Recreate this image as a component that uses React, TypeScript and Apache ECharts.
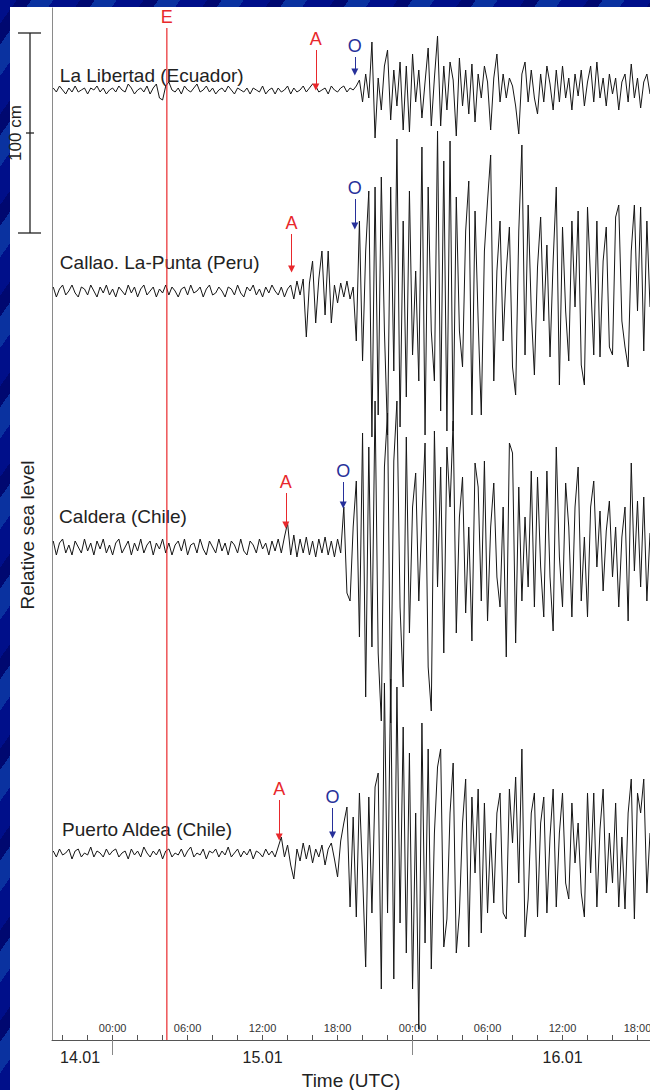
import React, { useEffect, useRef } from "react";
import * as echarts from "echarts";

// ---------- data ----------
// regular sampling of the four tide-gauge records (hours after 00:00 of the first day shown)
const T_START = -4.75;
const T_STEP = 0.25;

const STATIONS = [
  "La Libertad (Ecuador)",
  "Callao. La-Punta (Peru)",
  "Caldera (Chile)",
  "Puerto Aldea (Chile)",
];

// relative sea level (cm), one value every 15 min
const LA_LIBERTAD = [
  1, -1, 2, 0, -2, 1, -1, 2, -1, 0, 1, -2, 1, 0, 2, -1, 1, -2, 0, 1,
  -1, 2, 0, -1, 3, 1, -2, 0, 1, -1, 2, -2, 1, 3, -4, -5, 2, 4, 0, -1,
  1, -2, 2, 0, -1, 1, 3, -1, 0, 2, -1, 1, -2, 0, 1, -1, 2, 0, -2, 1,
  0, -1, 1, -2, 1, 0, -1, 2, -2, 0, 1, -2, 1, -1, 0, 2, -2, 1, -1, 0,
  2, -1, 1, 3, 2, -1, 0, 1, -2, 2, 0, -1, 1, 2, -1, 1, 0,
  2, 5, -6, 8, -4, 24, -24, 6, -10, 12, 20, -15, 10, -8, 14, -20, 12, -21, 18, -6,
  10, -14, 4, 21, -18, 6, 27, -18, 12, -10, 14, 5, -23, 16, -8, 10, -12, 13, -16, 8,
  -4, 12, 4, -20, 6, 18, -6, 8, -4, 6, 2, -8, -22, 8, 14, -6, 10, -4, -12, 8,
  -6, 12, 3, -10, 10, -6, 12, -4, 6, -10, 8, -3, 10, -8, 4, 12, -6, 14, -4, 6,
  -8, 8, -2, 6, -10, 4, 8, -6, 13, -4, 6, -9, 4, 8, -2,
];

const CALLAO = [
  2, -3, 1, 3, -2, 0, 3, -1, -3, 2, 1, -2, 3, 0, -3, 2, -1, 3, -2, 1,
  -3, 2, 0, -2, 3, -1, 2, -3, 1, 3, -2, 0, 2, -3, 1, -1, 3, -2, 2, 0,
  -3, 1, 2, -2, 3, -1, 0, 2, -3, 1, 3, -2, -1, 2, 0, -3, 2, 1, -2, 3,
  -1, -3, 2, 0, 3, -2, 1, -3, 2, -1, 3, 0, -2, 2, -3, 1,
  3, -4, 5, -2, 6, -23, 4, 15, -16, 6, 20, -12, 20, -16, 3, -6, 4, -3, 5, -4, 2,
  -25, 35, -35, 20, 50, -73, 52, -62, 57, -20, -72, 52, -40, 76, -68, 35, -53, 50, -32, 10,
  -45, 72, -72, 52, -20, -45, 80, -60, 65, -70, 75, -70, 47, -20, -38, 30, 55, -62, 40, -15,
  -62, 20, 45, 68, -45, 10, 35, -25, 10, 32, -38, -52, 30, 73, -32, 43, -10, -42, 12, 37,
  -15, 23, -33, 15, 52, -47, 32, -10, -35, 35, -8, 40, -37, -47, 42, 5, -32, 35, -33, 15,
  32, -28, -32, 37, 43, -15, -28, -38, 20, 43, -10, 42, -30, 35, -8,
];

const CALDERA = [
  3, -4, 2, 4, -3, 1, -4, 3, 0, -3, 4, -2, 2, -4, 3, -1, 4, -3, 1, -4,
  2, 4, -3, 0, 3, -4, 2, -2, 4, -3, 1, 3, -4, 2, -1, 4, -3, 2, -4, 1,
  3, -2, 4, -4, 1, 2, -3, 4, -1, -4, 3, 0, -3, 4, -2, 2, -4, 3, 1, -3,
  4, -2, -4, 3, 1, -3, 4, -1, 2, -4, 3, -2, 4, -3,
  5, 12, -4, 6, -5, 4, -3, 5, -4, 3, -5, 4, -3, 5, -4, 3, -5, 4, -3,
  20, -23, -27, 10, 33, -45, 57, -75, 50, -50, 73, -53, -87, 40, 67, -88, 43, 73, -30, -70,
  55, -43, 20, 37, -27, 15, 52, -60, -82, 58, -20, 40, -53, 50, 20, 63, -43, 15, 35, -33,
  10, -47, 42, 30, -27, 43, -37, 10, 32, -15, -30, 20, -55, 52, 47, -48, 30, -27, 15, -20,
  38, -30, 35, -10, -35, 38, -15, -42, 50, -5, -30, 32, 10, -35, 20, 40, -27, 5, -35, 20,
  33, -10, 18, -22, 8, 23, -15, 10, -30, 5, 20, -37, 42, -12, 23, -20, 25, -27, 7,
];

const PUERTO_ALDEA = [
  1, -2, 2, -1, 0, 2, -3, 1, 2, -2, 0, -1, 3, -2, 1, 0, -2, 2, -1, 1,
  2, -2, 0, 1, -3, 2, -1, 1, -2, 3, 0, -2, 1, -1, 2, -3, 1, 2, -2, 0,
  -1, 2, -2, 1, 3, -2, 0, -1, 2, -3, 1, 0, 2, -2, 1, -1, 3, -2, 0, 2,
  -2, 1, -1, 2, -3, 1, 0, -2, 2, -1, 1, -2,
  3, 8, -2, 4, -6, -13, 2, -4, 5, -3, 4, -5, 2, -2, 4, -6, 2, 5, -3, -12, 6,
  15, 23, -27, 18, -32, 30, -10, -57, 28, -30, 33, 40, -68, 85, -30, 87, -63, 83, -35, 63,
  -50, 50, -68, 20, -88, 65, -45, 52, -58, 10, 43, 52, -47, -33, 20, 45, -50, -30, 15, 37,
  -47, 28, -10, 32, -40, 25, -30, 10, -25, 20, 30, -30, -33, 32, 5, 38, -15, 52, -42, -23,
  20, 30, -32, 15, 28, -30, 8, 32, -27, 10, 30, -15, -23, 25, -5, 15, -20, -32, 30, -10,
  30, -27, 12, 32, -20, 10, -15, 25, -27, 8, -28, 20, 37, -33, 30, 20, 37, -20, 10,
];

const RECORDS = [LA_LIBERTAD, CALLAO, CALDERA, PUERTO_ALDEA];

// arrival times (hours) of the first wave (A) and of the main oscillation (O), and the event (E)
const ARRIVAL_A = [16.26, 14.32, 13.86, 13.33];
const ARRIVAL_O = [19.38, 19.38, 18.45, 17.6];
const EVENT_E = 4.34;

// axis ticks and labels
const HOUR_TICKS = [-4, -2, 0, 2, 4, 6, 8, 10, 12, 14, 16, 18, 20, 22, 24, 26, 28, 30, 32, 34, 36, 38, 40, 42];
const HOUR_LABELS = [0, 6, 12, 18, 24, 30, 36, 42];
const DAY_BREAKS = [0, 24];
const DAY_LABELS = ["14.01", "15.01", "16.01"];
const DAY_LABEL_AT = [-2.6, 12, 36];
const SCALE_CM = 100;

// ---------- layout (not data) ----------
const X_MIN = -4.85;
const X_MAX = 43;
const Y_MIN = 0;
const Y_MAX = 516;
const BASELINE_CM = [475, 374.5, 246.5, 93.5]; // vertical offset of each record
const LABEL_T = [-4.22, -4.22, -4.28, -4.04];
const LABEL_DY = [7.5, 14.5, 15.5, 12];
const ARROW_A_CM = [[20, 1.5], [28.5, 11], [27, 11], [26.5, 8]];
const ARROW_O_CM = [[16.5, 9], [46, 32.5], [32.5, 21], [22.5, 9]];
const E_TOP_CM = 506;
const SCALE_TOP_CM = 503.5;

const RED = "#e8282c";
const BLUE = "#27309a";
const FONT = '"Liberation Sans", Arial, Helvetica, sans-serif';

const hourFmt = (v: number) => {
  const h = ((Math.round(v) % 24) + 24) % 24;
  return (h < 10 ? "0" : "") + h + ":00";
};
const dayFmt = (v: number) => {
  const k = DAY_LABEL_AT.findIndex((d) => Math.abs(d - v) < 1e-6);
  return k >= 0 ? DAY_LABELS[k] : "";
};

function arrow(t: number, top: number, bottom: number, text: string, color: string) {
  return [
    {
      coord: [t, top],
      lineStyle: { color, width: 1, type: "solid" },
      itemStyle: { color },
      label: {
        show: true,
        formatter: text,
        position: "start",
        distance: 2,
        color,
        fontSize: 18,
        fontFamily: FONT,
      },
    },
    { coord: [t, bottom], itemStyle: { color } },
  ];
}

export default function App() {
  const ref = useRef<HTMLDivElement>(null);

  useEffect(() => {
    if (!ref.current) return;
    const chart = echarts.init(ref.current, null, { renderer: "svg" });

    const series: any[] = RECORDS.map((rec, k) => {
      const base = BASELINE_CM[k];
      return {
        type: "line",
        name: STATIONS[k],
        data: rec.map((v, i) => [T_START + i * T_STEP, v + base]),
        symbol: "none",
        silent: true,
        lineStyle: { color: "#161616", width: 1 },
        z: 2,
        markLine: {
          silent: true,
          animation: false,
          symbol: ["none", "triangle"],
          symbolSize: 7,
          data: [
            arrow(ARRIVAL_A[k], base + ARROW_A_CM[k][0], base + ARROW_A_CM[k][1], "A", RED),
            arrow(ARRIVAL_O[k], base + ARROW_O_CM[k][0], base + ARROW_O_CM[k][1], "O", BLUE),
          ],
        },
      };
    });

    chart.setOption({
      animation: false,
      backgroundColor: "transparent",
      textStyle: { fontFamily: FONT },
      grid: { left: 52, right: 0, top: 8, bottom: 50, containLabel: false, outerBoundsMode: "none" },
      xAxis: [
        {
          type: "value",
          min: X_MIN,
          max: X_MAX,
          position: "bottom",
          axisLine: { show: true, onZero: false, lineStyle: { color: "#555", width: 1 } },
          axisTick: {
            show: true,
            inside: true,
            length: 5,
            customValues: HOUR_TICKS,
            lineStyle: { color: "#555", width: 1 },
          },
          axisLabel: {
            show: true,
            inside: true,
            margin: 7,
            customValues: HOUR_LABELS,
            formatter: hourFmt,
            fontSize: 11,
            color: "#333",
            fontFamily: FONT,
          },
          splitLine: { show: false },
        },
        {
          type: "value",
          min: X_MIN,
          max: X_MAX,
          position: "bottom",
          axisLine: { show: false, onZero: false },
          axisTick: {
            show: true,
            inside: false,
            length: 15,
            customValues: DAY_BREAKS,
            lineStyle: { color: "#888", width: 1 },
          },
          axisLabel: {
            show: true,
            margin: 9,
            customValues: DAY_LABEL_AT,
            formatter: dayFmt,
            fontSize: 16,
            color: "#222",
            fontFamily: FONT,
          },
          splitLine: { show: false },
          name: "Time (UTC)",
          nameLocation: "middle",
          nameGap: 31,
          nameTextStyle: { fontSize: 19, color: "#222", fontFamily: FONT },
        },
      ],
      yAxis: {
        type: "value",
        min: Y_MIN,
        max: Y_MAX,
        position: "left",
        axisLine: { show: true, onZero: false, lineStyle: { color: "#8a8a8a", width: 1 } },
        axisTick: { show: false },
        axisLabel: { show: false },
        splitLine: { show: false },
        name: "Relative sea level",
        nameLocation: "middle",
        nameRotate: 90,
        nameGap: 15,
        nameTextStyle: { fontSize: 19, color: "#222", fontFamily: FONT, padding: [0, 22, 0, 0] },
      },
      series,
    });

    const px = (t: number) => chart.convertToPixel({ xAxisIndex: 0 }, t) as number;
    const py = (v: number) => chart.convertToPixel({ yAxisIndex: 0 }, v) as number;

    const graphics: any[] = STATIONS.map((name, k) => ({
      type: "text",
      x: px(LABEL_T[k]),
      y: py(BASELINE_CM[k] + LABEL_DY[k]),
      z: 10,
      style: {
        text: name,
        fill: "#222",
        fontSize: 19,
        fontFamily: FONT,
        align: "left",
        verticalAlign: "middle",
      },
    }));

    // event line E, positioned through the axes (drawn as a thin filled rect)
    const ex = px(EVENT_E);
    const eTop = py(E_TOP_CM);
    const eBot = py(Y_MIN);
    graphics.push(
      {
        type: "rect",
        z: 20,
        silent: true,
        shape: { x: ex - 0.6, y: eTop, width: 1.2, height: eBot - eTop },
        style: { fill: RED },
      },
      {
        type: "text",
        z: 20,
        x: ex,
        y: eTop - 2,
        style: {
          text: "E",
          fill: RED,
          fontSize: 18,
          fontFamily: FONT,
          align: "center",
          verticalAlign: "bottom",
        },
      }
    );

    const yTop = py(SCALE_TOP_CM);
    const yBot = py(SCALE_TOP_CM - SCALE_CM);
    const yMid = (yTop + yBot) / 2;
    const barX = 30;
    const stroke = { stroke: "#222", lineWidth: 1.3 };
    graphics.push(
      { type: "line", shape: { x1: barX, y1: yTop, x2: barX, y2: yBot }, style: stroke },
      { type: "line", shape: { x1: barX - 12, y1: yTop, x2: barX + 11, y2: yTop }, style: stroke },
      { type: "line", shape: { x1: barX - 12, y1: yBot, x2: barX + 11, y2: yBot }, style: stroke },
      { type: "line", shape: { x1: barX - 4, y1: yMid, x2: barX + 4, y2: yMid }, style: stroke },
      {
        type: "text",
        x: 15,
        y: yMid,
        rotation: Math.PI / 2,
        style: {
          text: SCALE_CM + " cm",
          fill: "#222",
          fontSize: 17,
          fontFamily: FONT,
          align: "center",
          verticalAlign: "middle",
        },
      }
    );

    chart.setOption({ graphic: graphics });

    return () => chart.dispose();
  }, []);

  return (
    <div
      style={{
        position: "absolute",
        left: 0,
        top: 0,
        width: 650,
        height: 1090,
        overflow: "hidden",
        background:
          "repeating-linear-gradient(-55deg, #000f8a 0px, #000f8a 22px, #0a32a0 22px, #0a32a0 40px, #000870 40px, #000870 52px)",
      }}
    >
      <div
        style={{
          position: "absolute",
          left: 10,
          top: 7,
          width: 640,
          height: 1083,
          background: "#ffffff",
        }}
      />
      <div
        ref={ref}
        style={{ position: "absolute", left: 0, top: 0, width: 650, height: 1090 }}
      />
    </div>
  );
}
